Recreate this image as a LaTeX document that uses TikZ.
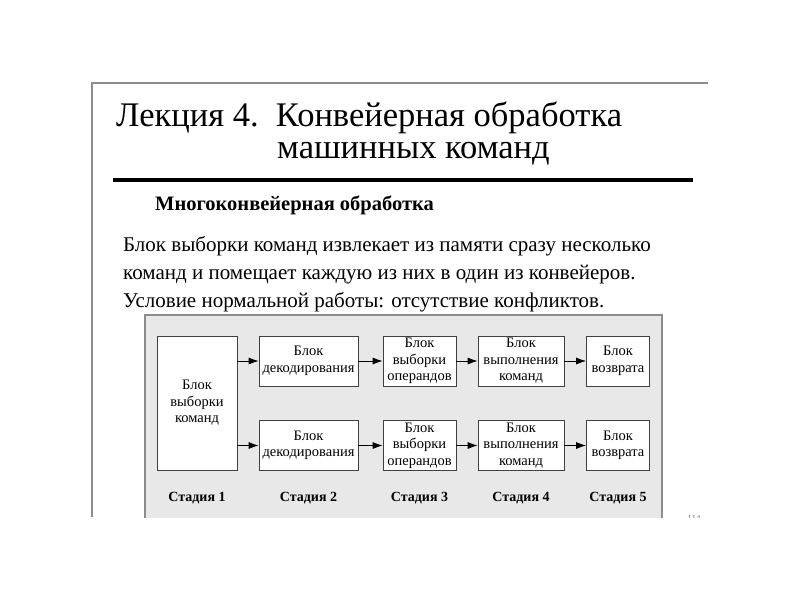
\documentclass[tikz,border=0pt]{standalone}
\usepackage{fontspec}
\setmainfont{Liberation Serif}
\usetikzlibrary{arrows.meta}
\begin{document}
\begin{tikzpicture}[x=1pt,y=-1pt,
  blk/.style={draw=black!75, line width=0.8pt, fill=white, align=center, inner sep=0pt,
    font=\fontsize{14.5}{16.5}\selectfont},
  arr/.style={-{Latex[length=10pt,width=7pt]}, line width=0.8pt},
  stage/.style={font=\fontsize{14}{16}\selectfont\bfseries, anchor=base},
  frame/.style={draw=black!45, line width=1.4pt}
]
\useasboundingbox (0,0) rectangle (800,600);
\fill[white] (0,0) rectangle (800,600);
% slide frame
\coordinate (ftl) at (92,83);
\coordinate (ftr) at (708,83);
\coordinate (fbl) at (92,517);
\draw[frame] (ftr) -- (ftl) -- (fbl);
% title
\node[anchor=base west, inner sep=0pt, align=left, font=\fontsize{34.5}{32}\selectfont] (t1) at (116,158) {Лекция 4.\ \ Конвейерная обработка\\\hspace*{161pt}машинных команд};
\coordinate (rl) at (113,180);
\coordinate (rr) at (693,180);
\draw[line width=3.6pt] (rl) -- (rr);
\node[anchor=base west, inner sep=0pt, font=\fontsize{20.5}{22}\selectfont\bfseries] (sub) at (155,210) {Многоконвейерная обработка};
\node[anchor=base west, inner sep=0pt, font=\fontsize{21}{28}\selectfont] (b1) at (123,251) {Блок выборки команд извлекает из памяти сразу несколько};
\node[anchor=base west, inner sep=0pt, font=\fontsize{21}{28}\selectfont] (b2) at (123,279) {команд и помещает каждую из них в один из конвейеров.};
\node[anchor=base west, inner sep=0pt, font=\fontsize{21}{28}\selectfont] (b3) at (123,307) {Условие нормальной работы: отсутствие конфликтов.};
% panel
\begin{scope}
\clip (0,0) rectangle (800,517);
\filldraw[fill=black!9, draw=black!45, line width=1.6pt] (145,315) rectangle (662,530);
\node[anchor=base, inner sep=0pt, font=\fontsize{9}{10}\selectfont, text=black!50] (pg) at (694,521) {114};
\end{scope}
% boxes
\node[blk, minimum width=80pt, minimum height=134pt] (f) at (197,403) {Блок\\выборки\\команд};
\node[blk, minimum width=99pt, minimum height=50pt] (d1) at (308.5,361) {Блок\\декодирования};
\node[blk, minimum width=99pt, minimum height=50pt] (d2) at (308.5,445.5) {Блок\\декодирования};
\node[blk, minimum width=73pt, minimum height=50pt] (o1) at (419.5,361) {Блок\\выборки\\операндов};
\node[blk, minimum width=73pt, minimum height=50pt] (o2) at (419.5,445.5) {Блок\\выборки\\операндов};
\node[blk, minimum width=86pt, minimum height=50pt] (e1) at (521,361) {Блок\\выполнения\\команд};
\node[blk, minimum width=86pt, minimum height=50pt] (e2) at (521,445.5) {Блок\\выполнения\\команд};
\node[blk, minimum width=63pt, minimum height=50pt] (r1) at (618,361) {Блок\\возврата};
\node[blk, minimum width=63pt, minimum height=50pt] (r2) at (618,445.5) {Блок\\возврата};
% arrows
\draw[arr] (f.east |- d1.west) -- (d1.west);
\draw[arr] (f.east |- d2.west) -- (d2.west);
\draw[arr] (d1) -- (o1);
\draw[arr] (d2) -- (o2);
\draw[arr] (o1) -- (e1);
\draw[arr] (o2) -- (e2);
\draw[arr] (e1) -- (r1);
\draw[arr] (e2) -- (r2);
% stages
\node[stage] (s1) at (197,501) {Стадия 1};
\node[stage] (s2) at (308.5,501) {Стадия 2};
\node[stage] (s3) at (419.5,501) {Стадия 3};
\node[stage] (s4) at (521,501) {Стадия 4};
\node[stage] (s5) at (618,501) {Стадия 5};
\end{tikzpicture}
\end{document}
